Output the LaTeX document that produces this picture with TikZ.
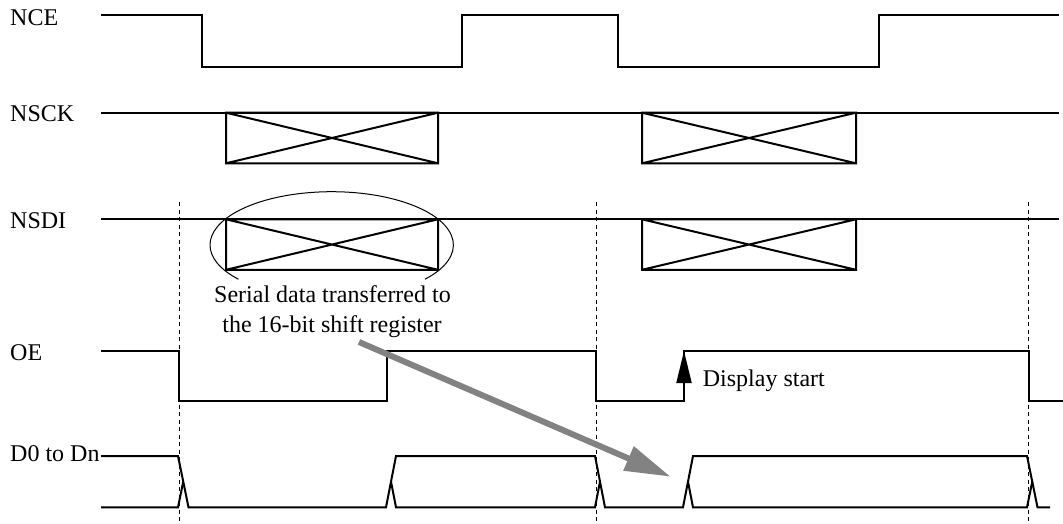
\documentclass[tikz,border=0pt]{standalone}
\usepackage{fontspec}
\setmainfont{Liberation Serif}
\usetikzlibrary{arrows.meta}
\newcommand\timingxbox[4]{%
  \draw[sig] (#1,#3) rectangle (#2,#4) (#1,#3) -- (#2,#4) (#1,#4) -- (#2,#3);}
\tikzset{
  sig/.style={line width=2pt, line join=miter},
  guide/.style={line width=0.9pt, dash pattern=on 4pt off 3.5pt},
  lbl/.style={anchor=base west, inner sep=0pt, font=\fontsize{24}{30}\selectfont},
  note/.style={anchor=base, inner sep=0pt, font=\fontsize{24}{30}\selectfont},
  bigarrow/.style={line width=6pt, draw={rgb,255:red,130;green,130;blue,130},
    -{Triangle[length=46pt,width=25pt]}},
  startarrow/.style={line width=2pt, -{Triangle[length=32pt,width=15pt]}}
}
\begin{document}
\begin{tikzpicture}[x=1pt,y=-1pt]
\useasboundingbox (0,0) rectangle (1063,524);
% labels
\node[lbl] (lNCE) at (10,25.7) {NCE};
\node[lbl] (lNSCK) at (10,121.7) {NSCK};
\node[lbl] (lNSDI) at (10,228.3) {NSDI};
\node[lbl] (lOE) at (10,360.7) {OE};
\node[lbl] (lD) at (10,461.7) {D0 to Dn};
% guides
\draw[guide] (179,202) -- (179,524);
\draw[guide] (596,202) -- (596,524);
\draw[guide] (1028.5,202) -- (1028.5,524);
% NCE
\draw[sig] (101,15.3) -- (201.5,15.3) -- (201.5,66.7) -- (461.7,66.7) -- (461.7,15.3)
  -- (617.5,15.3) -- (617.5,66.7) -- (879,66.7) -- (879,15.3) -- (1059,15.3);
% NSCK
\draw[sig] (101,112.7) -- (1059,112.7);
\timingxbox{226}{438}{112.7}{163.3}
\timingxbox{642}{856}{112.7}{163.3}
% NSDI
\draw[sig] (101,219.3) -- (1059,219.3);
\timingxbox{226}{438}{219.3}{269.8}
\timingxbox{642}{856}{219.3}{269.8}
% ellipse
\draw[line width=1pt] ([shift={(40:121.7 and 53.3)}]331.7,245) arc[start angle=40, end angle=-220, x radius=121.7, y radius=53.3];
\node[note] (t1) at (332.5,302.3) {Serial data transferred to};
\node[note] (t2) at (332,332.3) {the 16-bit shift register};
% OE
\draw[sig] (101,351) -- (179,351) -- (179,401) -- (387,401) -- (387,351) -- (596,351)
  -- (596,401) -- (684,401) -- (684,351) -- (1028.5,351) -- (1028.5,401) -- (1063,401);
\coordinate (dsA) at (684,401);
\coordinate (dsB) at (684,351);
\draw[startarrow] (dsA) -- (dsB);
\node[lbl] (ds) at (702.7,386.7) {Display start};
% D0 to Dn
\draw[sig] (101,456) -- (178,456) -- (188.5,507.3) -- (386,507.3) -- (396,456) -- (595,456)
  -- (605,507.3) -- (683,507.3) -- (693,456) -- (1027,456) -- (1037.5,507.3) -- (1050,507.3);
\draw[sig] (101,507.3) -- (178,507.3) -- (183.25,481.65);
\draw[sig] (391,481.65) -- (396,507.3) -- (595,507.3) -- (600,481.65);
\draw[sig] (688,481.65) -- (693,507.3) -- (1027,507.3) -- (1032.25,481.65);
% gray arrow
\coordinate (arS) at (359,342);
\coordinate (arT) at (670.7,476.7);
\draw[bigarrow] (arS) -- (arT);
\end{tikzpicture}
\end{document}
